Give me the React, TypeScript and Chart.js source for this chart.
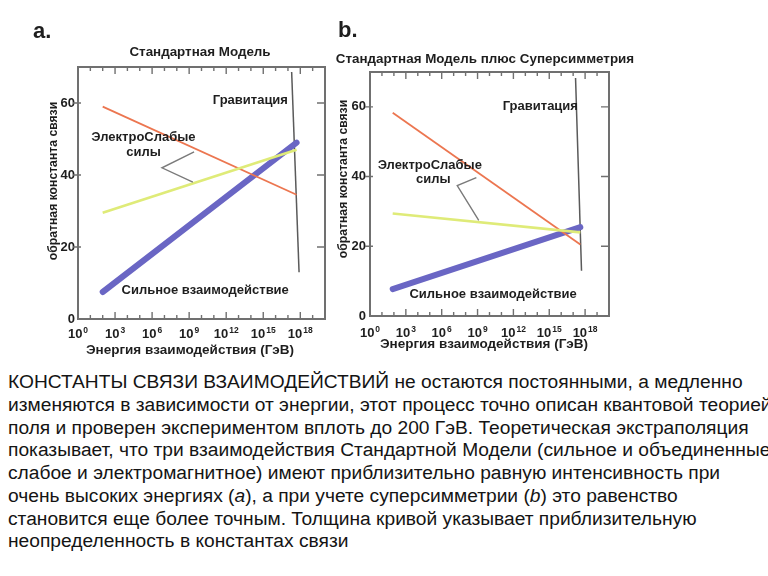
import { useEffect, useRef } from "react";
import { Chart, registerables } from "chart.js";

Chart.register(...registerables);

const FONT = '"Liberation Sans", Arial, Helvetica, sans-serif';

// ---- shared axis data ----
const X_LABEL_EXPONENTS = [0, 3, 6, 9, 12, 15, 18];
const X_DECADE_TICKS = [1, 2, 3, 4, 5, 6, 7, 8, 9, 10, 11, 12, 13, 14, 15, 16, 17, 18, 19];
const Y_TICKS = [0, 20, 40, 60];
const Y_FRAME_TICKS = [20, 40, 60];
const X_TITLE = "Энергия взаимодействия (ГэВ)";
const Y_TITLE = "обратная константа связи";

// ---- panel a: Standard Model ----
const A_ENERGY_EXP = [2, 17.7];
const A_ELECTROMAGNETIC = [59, 34.5];
const A_WEAK = [29.5, 47];
const A_STRONG = [7.5, 49];
const A_GRAVITY_EXP = [17.3, 17.9];
const A_GRAVITY = [68.6, 13];
const A_BRACKET_EXP = [9.4, 6.8, 9.3];
const A_BRACKET = [46.4, 42, 38];

// ---- panel b: Standard Model + Supersymmetry ----
const B_ENERGY_EXP = [1.9, 17.6];
const B_ELECTROMAGNETIC = [58.3, 20.5];
const B_WEAK = [29.4, 24];
const B_STRONG = [7.7, 25.5];
const B_GRAVITY_EXP = [17.2, 17.7];
const B_GRAVITY = [68.3, 13];
const B_BRACKET_EXP = [8.9, 7.3, 9.1];
const B_BRACKET = [39.7, 37.4, 27.4];

const pts = (xs: number[], ys: number[]) => xs.map((x, i) => ({ x, y: ys[i] }));

type Txt = { text: string; x: number; y: number; size: number; align: CanvasTextAlign };
type DataTxt = { text: string; ex: number; val: number; align: CanvasTextAlign };

type PanelCfg = {
  width: number;
  height: number;
  padTop: number;
  padRight: number;
  yWidth: number;
  xHeight: number;
  xLabelY: number;
  yTickPad: number;
  energy: number[];
  em: number[];
  weak: number[];
  strong: number[];
  gravityExp: number[];
  gravity: number[];
  bracketExp: number[];
  bracket: number[];
  headerTexts: Txt[];
  yTitle: { cx: number; cy: number };
  xTitle: { cx: number; cy: number };
  plotTexts: DataTxt[];
};

const TEXT_COLOR = "#1e1e1e";

function decorPlugin(cfg: PanelCfg) {
  return {
    id: "decor",
    beforeDatasetsDraw(chart: any) {
      const { ctx, chartArea } = chart;
      const { left, right, top, bottom } = chartArea;
      const xs = chart.scales.x;
      const ys = chart.scales.y;
      ctx.save();
      ctx.strokeStyle = "#707070";
      ctx.lineWidth = 2;
      ctx.strokeRect(left, top, right - left, bottom - top);
      ctx.lineWidth = 1.4;
      ctx.beginPath();
      for (const e of X_DECADE_TICKS) {
        const px = xs.getPixelForValue(e);
        const len = e % 3 === 0 ? 7 : 4;
        ctx.moveTo(px, bottom);
        ctx.lineTo(px, bottom - len);
        ctx.moveTo(px, top);
        ctx.lineTo(px, top + len);
      }
      for (const v of Y_FRAME_TICKS) {
        const py = ys.getPixelForValue(v);
        ctx.moveTo(left - 5, py);
        ctx.lineTo(left + 3, py);
        ctx.moveTo(right, py);
        ctx.lineTo(right - 8, py);
      }
      ctx.stroke();
      ctx.restore();
    },
    afterDatasetsDraw(chart: any) {
      const { ctx } = chart;
      const xs = chart.scales.x;
      const ys = chart.scales.y;
      ctx.save();
      ctx.fillStyle = TEXT_COLOR;
      ctx.textBaseline = "alphabetic";
      for (const t of cfg.headerTexts) {
        ctx.font = `bold ${t.size}px ${FONT}`;
        ctx.textAlign = t.align;
        ctx.fillText(t.text, t.x, t.y);
      }
      // x tick labels: 10^n with a raised exponent
      ctx.textAlign = "left";
      for (const e of X_LABEL_EXPONENTS) {
        const px = xs.getPixelForValue(e);
        ctx.font = `bold 13px ${FONT}`;
        const wb = ctx.measureText("10").width;
        ctx.font = `bold 8.5px ${FONT}`;
        const we = ctx.measureText(String(e)).width;
        const x0 = px - (wb + 1 + we) / 2;
        ctx.font = `bold 13px ${FONT}`;
        ctx.fillText("10", x0, cfg.xLabelY);
        ctx.font = `bold 8.5px ${FONT}`;
        ctx.fillText(String(e), x0 + wb + 1, cfg.xLabelY - 5.5);
      }
      ctx.font = `bold 13px ${FONT}`;
      ctx.textBaseline = "middle";
      for (const t of cfg.plotTexts) {
        ctx.textAlign = t.align;
        ctx.fillText(t.text, xs.getPixelForValue(t.ex), ys.getPixelForValue(t.val));
      }
      ctx.textAlign = "center";
      ctx.font = `bold 13.5px ${FONT}`;
      ctx.fillText(X_TITLE, cfg.xTitle.cx, cfg.xTitle.cy);
      ctx.font = `bold 12.2px ${FONT}`;
      ctx.translate(cfg.yTitle.cx, cfg.yTitle.cy);
      ctx.rotate(-Math.PI / 2);
      ctx.fillText(Y_TITLE, 0, 0);
      ctx.restore();
    },
  };
}

function Panel({ cfg, left }: { cfg: PanelCfg; left: number }) {
  const ref = useRef<HTMLCanvasElement | null>(null);
  useEffect(() => {
    if (!ref.current) return;
    const tickFont = { family: FONT, size: 13, weight: "bold" as const };
    const chart = new Chart(ref.current, {
      type: "line",
      data: {
        datasets: [
          {
            data: pts(cfg.bracketExp, cfg.bracket),
            borderColor: "#7a7a7a",
            borderWidth: 1.4,
            pointRadius: 0,
          },
          {
            data: pts(cfg.energy, cfg.weak),
            borderColor: "#dfeb78",
            borderWidth: 2.6,
            pointRadius: 0,
          },
          {
            data: pts(cfg.energy, cfg.em),
            borderColor: "#ec7650",
            borderWidth: 1.8,
            pointRadius: 0,
          },
          {
            data: pts(cfg.energy, cfg.strong),
            borderColor: "#6a66c4",
            borderWidth: 6,
            borderCapStyle: "round",
            pointRadius: 0,
          },
          {
            data: pts(cfg.gravityExp, cfg.gravity),
            borderColor: "#5a5a5a",
            borderWidth: 1.5,
            pointRadius: 0,
          },
        ],
      },
      options: {
        animation: false,
        responsive: false,
        maintainAspectRatio: false,
        events: [],
        layout: { padding: { top: cfg.padTop, right: cfg.padRight, left: 0, bottom: 0 } },
        plugins: { legend: { display: false }, tooltip: { enabled: false } },
        scales: {
          x: {
            type: "linear",
            min: 0,
            max: 20,
            grid: { display: false, drawTicks: false },
            border: { display: false },
            afterBuildTicks: (s: any) => {
              s.ticks = X_LABEL_EXPONENTS.map((v) => ({ value: v }));
            },
            afterFit: (s: any) => {
              s.height = cfg.xHeight;
            },
            ticks: { display: false },
          },
          y: {
            type: "linear",
            min: 0,
            max: 70,
            grid: { display: false, drawTicks: false },
            border: { display: false },
            afterBuildTicks: (s: any) => {
              s.ticks = Y_TICKS.map((v) => ({ value: v }));
            },
            afterFit: (s: any) => {
              s.width = cfg.yWidth;
            },
            ticks: {
              padding: cfg.yTickPad,
              font: tickFont,
              color: TEXT_COLOR,
            },
          },
        },
      },
      plugins: [decorPlugin(cfg)],
    } as any);
    return () => chart.destroy();
  }, [cfg]);
  return (
    <canvas
      ref={ref}
      width={cfg.width}
      height={cfg.height}
      style={{ position: "absolute", left, top: 0, width: cfg.width, height: cfg.height }}
    />
  );
}

const PANEL_A: PanelCfg = {
  width: 335,
  height: 362,
  padTop: 67,
  padRight: 10,
  yWidth: 78,
  xHeight: 43,
  xLabelY: 338,
  yTickPad: 3,
  energy: A_ENERGY_EXP,
  em: A_ELECTROMAGNETIC,
  weak: A_WEAK,
  strong: A_STRONG,
  gravityExp: A_GRAVITY_EXP,
  gravity: A_GRAVITY,
  bracketExp: A_BRACKET_EXP,
  bracket: A_BRACKET,
  headerTexts: [
    { text: "a.", x: 33, y: 38, size: 22, align: "left" },
    { text: "Стандартная Модель", x: 200, y: 56, size: 13.4, align: "center" },
  ],
  yTitle: { cx: 54, cy: 181 },
  xTitle: { cx: 190, cy: 350 },
  plotTexts: [
    { text: "Гравитация", ex: 17.0, val: 60.6, align: "right" },
    { text: "ЭлектроСлабые", ex: 5.3, val: 50.3, align: "center" },
    { text: "силы", ex: 5.3, val: 46.4, align: "center" },
    { text: "Сильное взаимодействие", ex: 10.3, val: 7.8, align: "center" },
  ],
};

const PANEL_B: PanelCfg = {
  width: 305,
  height: 362,
  padTop: 72,
  padRight: 26,
  yWidth: 40,
  xHeight: 46,
  xLabelY: 337,
  yTickPad: 4,
  energy: B_ENERGY_EXP,
  em: B_ELECTROMAGNETIC,
  weak: B_WEAK,
  strong: B_STRONG,
  gravityExp: B_GRAVITY_EXP,
  gravity: B_GRAVITY,
  bracketExp: B_BRACKET_EXP,
  bracket: B_BRACKET,
  headerTexts: [
    { text: "b.", x: 8, y: 37, size: 22, align: "left" },
    { text: "Стандартная Модель плюс Суперсимметрия", x: 155, y: 63, size: 13.4, align: "center" },
  ],
  yTitle: { cx: 14, cy: 179 },
  xTitle: { cx: 154, cy: 344 },
  plotTexts: [
    { text: "Гравитация", ex: 17.4, val: 60.2, align: "right" },
    { text: "ЭлектроСлабые", ex: 5.0, val: 43.3, align: "center" },
    { text: "силы", ex: 5.3, val: 39.3, align: "center" },
    { text: "Сильное взаимодействие", ex: 10.3, val: 6.3, align: "center" },
  ],
};

export default function App() {
  return (
    <div
      style={{
        position: "fixed",
        left: 0,
        top: 0,
        width: 768,
        height: 576,
        background: "#fff",
        overflow: "hidden",
      }}
    >
      <Panel cfg={PANEL_A} left={0} />
      <Panel cfg={PANEL_B} left={330} />
      <div
        style={{
          position: "absolute",
          left: 8,
          top: 371,
          width: 760,
          overflow: "hidden",
          whiteSpace: "nowrap",
          fontFamily: FONT,
          fontSize: 19.2,
          lineHeight: "22.75px",
          color: "#141414",
        }}
      >
        <div>КОНСТАНТЫ СВЯЗИ ВЗАИМОДЕЙСТВИЙ не остаются постоянными, а медленно</div>
        <div>изменяются в зависимости от энергии, этот процесс точно описан квантовой теорией</div>
        <div>поля и проверен экспериментом вплоть до 200 ГэВ. Теоретическая экстраполяция</div>
        <div>показывает, что три взаимодействия Стандартной Модели (сильное и объединенные</div>
        <div>слабое и электромагнитное) имеют приблизительно равную интенсивность при</div>
        <div>
          очень высоких энергиях (<i>a</i>), а при учете суперсимметрии (<i>b</i>) это равенство
        </div>
        <div>становится еще более точным. Толщина кривой указывает приблизительную</div>
        <div>неопределенность в константах связи</div>
      </div>
    </div>
  );
}
